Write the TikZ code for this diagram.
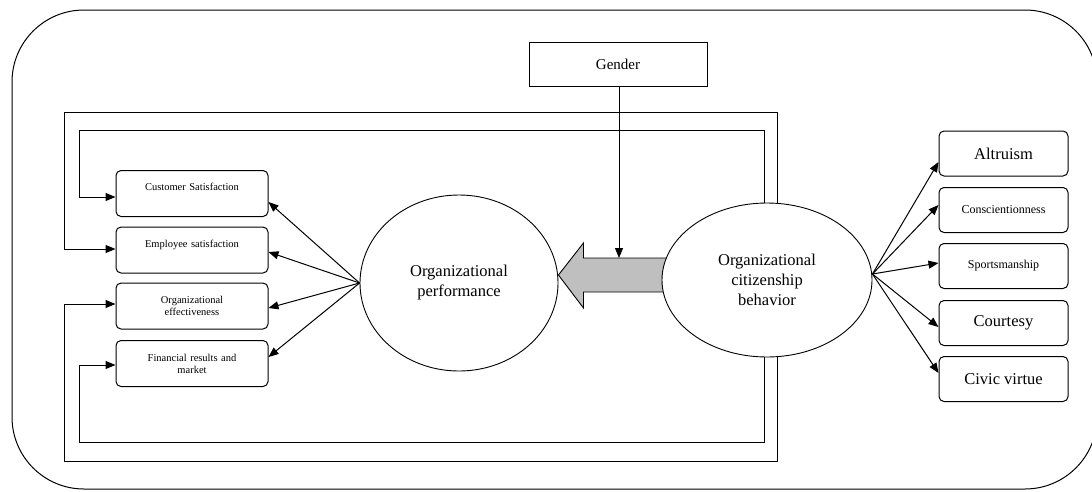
\documentclass[tikz,border=0pt]{standalone}
\usepackage{fontspec}
\setmainfont{Liberation Serif}
\usetikzlibrary{shapes.geometric,arrows.meta,positioning,calc}

\begin{document}
\begin{tikzpicture}[x=1pt, y=-1pt,
  box/.style={draw, rounded corners=5pt, line width=1pt, minimum width=152pt, minimum height=46pt,
    text width=140pt, align=center, inner sep=2pt, font=\fontsize{10.5}{12}\selectfont},
  toptext/.style={text depth=13pt},
  dim/.style={draw, rounded corners=5pt, line width=1pt, minimum width=129pt, minimum height=45pt,
    align=center, inner sep=2pt},
  oval/.style={draw, ellipse, line width=0.9pt, fill=white, inner sep=0pt, align=center,
    font=\fontsize{16.5}{20}\selectfont},
  link/.style={-{Triangle[length=10pt,width=8pt]}, line width=1pt},
  loopline/.style={-{Triangle[length=10pt,width=8pt]}, line width=1pt},
]

\clip (0,0) rectangle (1092,491);

% frame round the whole model
\draw[line width=1pt, rounded corners=72pt] (12,10) rectangle (1097,489);

% === LEFT: performance dimensions ===
\node[box, toptext] (CS) at (192,193.5) {Customer Satisfaction};
\node[box, toptext] (ES) at (192,250) {Employee satisfaction};
\node[box] (OE) at (192,306) {Organizational\\effectiveness};
\node[box] (FR) at (192,363.5) {Financial results and\\market};

% === MIDDLE: performance and moderator ===
\node[oval, minimum width=198pt, minimum height=176pt] (OP) at (459,283) {Organizational\\performance};
\node[draw, line width=1pt, minimum width=178pt, minimum height=44pt,
  font=\fontsize{15}{18}\selectfont] (Gender) at (618,64) {Gender};

% big arrow from OCB to OP
\coordinate (tip) at (OP.east |- 0,275);
\coordinate (shaft) at (619,258);
\draw[line width=0.9pt, fill=gray!50] (tip) -- ++(25,-32) -- ++(0,15) -- ++(87,0)
  -- ++(0,34) -- ++(-87,0) -- ++(0,16) -- cycle;

% === RIGHT: citizenship behavior ===
\node[oval, minimum width=210pt, minimum height=154pt] (OCB) at (767,280)
  {Organizational\\citizenship\\behavior};

\node[dim, font=\fontsize{16.5}{20}\selectfont] (Alt) at (1003.5,153.5) {Altruism};
\node[dim, font=\fontsize{12}{14}\selectfont] (Con) at (1003.5,210) {Conscientionness};
\node[dim, font=\fontsize{12}{14}\selectfont] (Spo) at (1003.5,266) {Sportsmanship};
\node[dim, font=\fontsize{16.5}{20}\selectfont] (Cou) at (1003.5,323) {Courtesy};
\node[dim, font=\fontsize{16.5}{20}\selectfont] (Civ) at (1003.5,379) {Civic virtue};

% arrows
\draw[link, line width=0.8pt] (Gender.south -| shaft) -- (shaft);

\draw[link] (OP.west) -- ([yshift=-8.5pt]CS.east);
\draw[link] (OP.west) -- ([yshift=-2pt]ES.east);
\draw[link] (OP.west) -- ([yshift=-2pt]OE.east);
\draw[link] (OP.west) -- ([yshift=6.5pt]FR.east);

\draw[link] ([yshift=6pt]OCB.east) -- ([yshift=-8.5pt]Alt.west);
\draw[link] ([yshift=6pt]OCB.east) -- ([yshift=5pt]Con.west);
\draw[link] ([yshift=6pt]OCB.east) -- ([yshift=3pt]Spo.west);
\draw[link] ([yshift=6pt]OCB.east) -- ([yshift=-4pt]Cou.west);
\draw[link] ([yshift=6pt]OCB.east) -- ([yshift=6pt]Civ.west);

% feedback loops
\draw[loopline] ([xshift=-3pt]OCB.north) |- (79,130) |- ([yshift=-3.5pt]CS.west);
\draw[loopline] ([xshift=10pt]OCB.north) |- (64,112) |- ([yshift=1pt]ES.west);
\draw[loopline] ([xshift=10pt]OCB.south) |- (64,461) |- ([yshift=2pt]OE.west);
\draw[loopline] ([xshift=-3pt]OCB.south) |- (79,442) |- ([yshift=-1.5pt]FR.west);

\end{tikzpicture}
\end{document}
